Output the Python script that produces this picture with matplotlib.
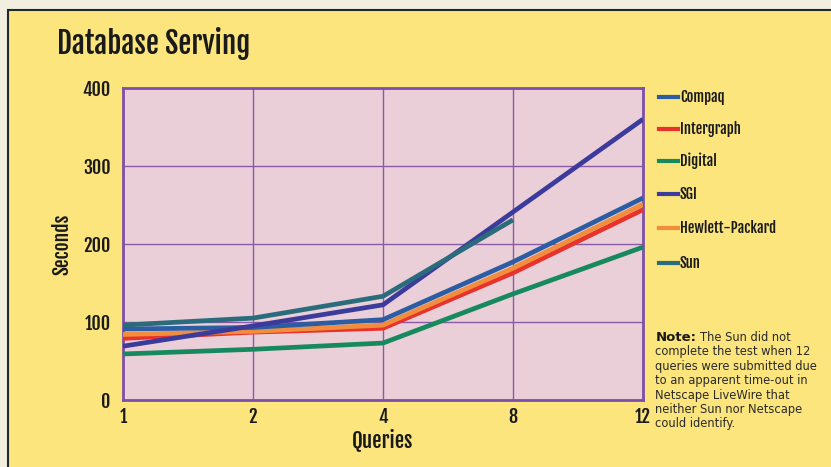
import matplotlib
matplotlib.use("Agg")
import matplotlib.pyplot as plt
from matplotlib.patches import Rectangle
import numpy as np
import logging
logging.getLogger("matplotlib.font_manager").setLevel(logging.ERROR)

queries = ["1", "2", "4", "8", "12"]
compaq = [91, 93, 103, 177, 259]
intergraph = [79, 87, 92, 163, 244]
digital = [59, 65, 73, 136, 196]
sgi = [69, 95, 122, 241, 360]
hp = [84, 88, 96, 169, 251]
sun = [96, 105, 133, 231]

series_names = ["Compaq", "Intergraph", "Digital", "SGI", "Hewlett-Packard", "Sun"]
colors = {"Compaq": "#2c5da3", "Intergraph": "#e8322c", "Digital": "#17895e",
          "SGI": "#3b3b9c", "Hewlett-Packard": "#f18d3c", "Sun": "#2a6b7c"}
data = {"Compaq": compaq, "Intergraph": intergraph, "Digital": digital,
        "SGI": sgi, "Hewlett-Packard": hp, "Sun": sun}

COND = ["Fjalla One", "Oswald", "Roboto Condensed", "DejaVu Sans"]

def ctext(obj):
    obj.set_family(COND)

fig = plt.figure(figsize=(8.31, 4.67), dpi=100)
fig.patch.set_facecolor("#f2eee0")
panel = Rectangle((8/831, -0.1), 1.1, 1 - 10/467 + 0.1, transform=fig.transFigure,
                  facecolor="#fbe57c", edgecolor="#1e2a2a", linewidth=1.5, zorder=-5)
fig.add_artist(panel)

ax = fig.add_axes([123/831, 1 - 400/467, (643 - 123)/831, (400 - 88)/467])
ax.set_zorder(2)
ax.set_facecolor("#ebcfd8")
x = np.arange(len(queries))
order = ["Digital", "Intergraph", "Hewlett-Packard", "Compaq", "SGI", "Sun"]
for name in order:
    vals = data[name]
    ax.plot(x[:len(vals)], vals, color=colors[name], linewidth=3.4, solid_capstyle="butt", zorder=3)

ax.set_xlim(0, 4)
ax.set_ylim(0, 400)
ax.set_xticks(x)
ax.set_xticklabels(queries)
ax.set_yticks([0, 100, 200, 300, 400])
ax.grid(True, color="#8a5aa8", linewidth=1.0)
ax.set_axisbelow(True)
for s in ax.spines.values():
    s.set_color("#7d4fa8")
    s.set_linewidth(2)
ax.tick_params(length=0, labelsize=13, colors="#1a1a1a")
ax.tick_params(axis="x", pad=5)
ax.tick_params(axis="y", pad=9)
for lab in ax.get_xticklabels() + ax.get_yticklabels():
    ctext(lab)
    lab.set_fontweight("bold")
xl = ax.set_xlabel("Queries", fontsize=15, fontweight="bold", labelpad=1, color="#1a1a1a")
yl = ax.set_ylabel("Seconds", fontsize=14, fontweight="bold", labelpad=7, color="#1a1a1a")
ctext(xl); ctext(yl)

t = fig.text(57/831, 1 - 44/467, "Database Serving", fontsize=21, fontweight="bold",
             color="#1a1a1a", va="center", ha="left")
ctext(t)

# legend
leg_y = [97, 129, 161, 194, 228, 263]
for name, yy in zip(series_names, leg_y):
    fy = 1 - yy / 467
    fig.add_artist(plt.Line2D([659/831, 678/831], [fy, fy], transform=fig.transFigure,
                              color=colors[name], linewidth=3))
    lt = fig.text(680/831, fy, name, fontsize=10.5, fontweight="bold",
                  va="center", ha="left", color="#1a1a1a")
    ctext(lt)

note_lines = ["The Sun did not", "complete the test when 12", "queries were submitted due",
              "to an apparent time-out in", "Netscape LiveWire that",
              "neither Sun nor Netscape", "could identify."]
note_x = 655/831
note_top = 1 - 341/467
nt = fig.text(656/831, note_top, "Note:", fontsize=9.5, fontweight="bold",
              va="baseline", ha="left", color="#1a1a1a", family="DejaVu Sans")
fig.canvas.draw()
bb = nt.get_window_extent()
line_h = 14.4 / 467
fig.text((bb.x1 + 3) / 831, note_top, note_lines[0], fontsize=8.3,
         va="baseline", ha="left", color="#2a2a2a")
for i, ln in enumerate(note_lines[1:], start=1):
    fig.text(note_x, note_top - i * line_h, ln, fontsize=8.3,
             va="baseline", ha="left", color="#2a2a2a")

fig.savefig("out.png", dpi=100, facecolor=fig.get_facecolor())
